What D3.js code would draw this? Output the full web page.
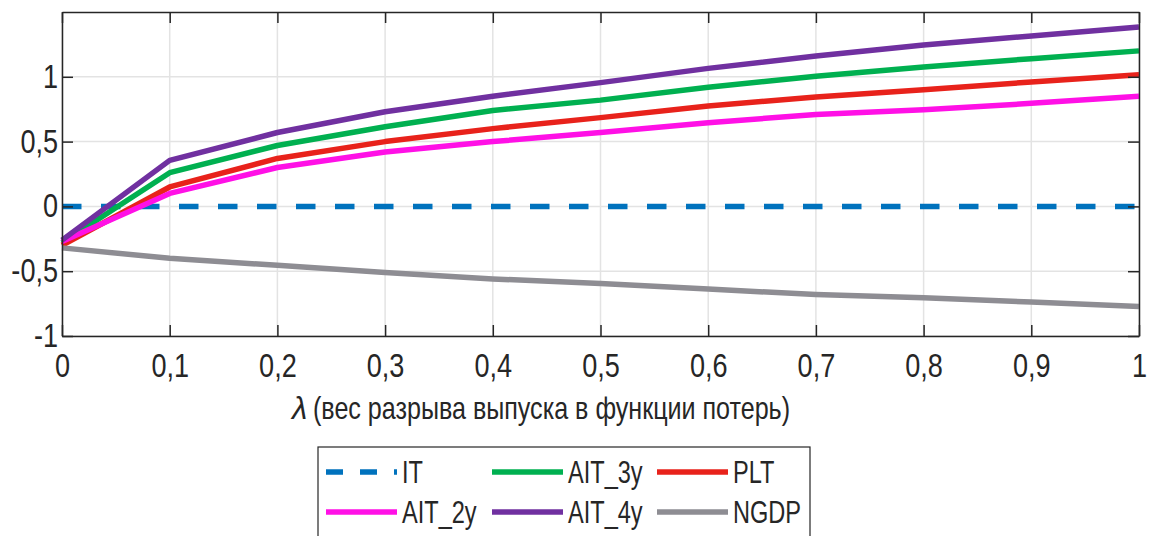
<!DOCTYPE html>
<html>
<head>
<meta charset="utf-8">
<script src="https://cdn.jsdelivr.net/npm/d3@7"></script>
<style>
  body { margin: 0; background: #fff; }
  svg text { font-family: "Liberation Sans Narrow", "Arial Narrow", "Liberation Sans", sans-serif; fill: #262626; }
</style>
</head>
<body>
<div id="chart"></div>
<script>
// lambda grid
const lambdas = [0, 0.1, 0.2, 0.3, 0.4, 0.5, 0.6, 0.7, 0.8, 0.9, 1];

// series values
const IT     = [0, 0, 0, 0, 0, 0, 0, 0, 0, 0, 0];
const AIT_2y = [-0.27, 0.10, 0.30, 0.42, 0.50, 0.57, 0.645, 0.71, 0.745, 0.795, 0.85];
const AIT_3y = [-0.28, 0.26, 0.47, 0.615, 0.74, 0.82, 0.92, 1.005, 1.075, 1.14, 1.20];
const AIT_4y = [-0.26, 0.355, 0.57, 0.73, 0.85, 0.955, 1.065, 1.16, 1.245, 1.315, 1.385];
const PLT    = [-0.30, 0.15, 0.37, 0.50, 0.60, 0.685, 0.775, 0.845, 0.90, 0.96, 1.015];
const NGDP   = [-0.32, -0.40, -0.455, -0.51, -0.56, -0.595, -0.638, -0.68, -0.705, -0.738, -0.772];

const xTicks = [0, 0.1, 0.2, 0.3, 0.4, 0.5, 0.6, 0.7, 0.8, 0.9, 1];
const yTicks = [-1, -0.5, 0, 0.5, 1];

const xLabel = "(вес разрыва выпуска в функции потерь)";

const series = [
  { name: "IT",     values: IT,     color: "#0072BD", dash: true },
  { name: "AIT_3y", values: AIT_3y, color: "#00B050" },
  { name: "PLT",    values: PLT,    color: "#E8221B" },
  { name: "AIT_2y", values: AIT_2y, color: "#FF10E6" },
  { name: "AIT_4y", values: AIT_4y, color: "#7030A0" },
  { name: "NGDP",   values: NGDP,   color: "#8E8D93" }
];

const width = 1149, height = 536;

const svg = d3.select("#chart").append("svg")
  .attr("width", width)
  .attr("height", height);

const x = d3.scaleLinear().domain([0, 1]).range([62, 1139]);
const y = d3.scaleLinear().domain([-1, 1.5]).range([336, 12]);

const fmt = d => String(d).replace(".", ",");

// squeeze text horizontally (no narrow font installed)
function condense(sel, k) {
  sel.each(function () {
    const w = this.getComputedTextLength();
    if (w > 0) d3.select(this).attr("textLength", w * k).attr("lengthAdjust", "spacingAndGlyphs");
  });
}

// grid
const grid = svg.append("g");
grid.selectAll("line.gx").data(xTicks).enter().append("line")
  .attr("x1", d => x(d)).attr("x2", d => x(d))
  .attr("y1", y(-1)).attr("y2", y(1.5))
  .attr("stroke", "#e3e3e3").attr("stroke-width", 1.5);
grid.selectAll("line.gy").data(yTicks).enter().append("line")
  .attr("x1", x(0)).attr("x2", x(1))
  .attr("y1", d => y(d)).attr("y2", d => y(d))
  .attr("stroke", "#e3e3e3").attr("stroke-width", 1.5);

// lines
const line = d3.line()
  .x((d, i) => x(lambdas[i]))
  .y(d => y(d));

svg.append("g").selectAll("path").data(series).enter().append("path")
  .attr("d", d => line(d.values))
  .attr("fill", "none")
  .attr("stroke", d => d.color)
  .attr("stroke-width", 5.5)
  .attr("stroke-linejoin", "round")
  .attr("stroke-dasharray", d => d.dash ? "19.5 19.5" : null);

// axes (inward ticks, closed box)
const tickLen = 11;
const axBottom = svg.append("g").attr("transform", `translate(0,${y(-1)})`)
  .call(d3.axisBottom(x).tickValues(xTicks).tickFormat(fmt).tickSizeInner(-tickLen).tickSizeOuter(0).tickPadding(18));
const axTop = svg.append("g").attr("transform", `translate(0,${y(1.5)})`)
  .call(d3.axisTop(x).tickValues(xTicks).tickFormat("").tickSizeInner(-tickLen).tickSizeOuter(0));
const axLeft = svg.append("g").attr("transform", `translate(${x(0)},0)`)
  .call(d3.axisLeft(y).tickValues(yTicks).tickFormat(fmt).tickSizeInner(-tickLen).tickSizeOuter(0).tickPadding(8));
const axRight = svg.append("g").attr("transform", `translate(${x(1)},0)`)
  .call(d3.axisRight(y).tickValues(yTicks).tickFormat("").tickSizeInner(-tickLen).tickSizeOuter(0));

[axBottom, axTop, axLeft, axRight].forEach(g => {
  g.selectAll(".domain").attr("stroke", "#262626").attr("stroke-width", 1.5);
  g.selectAll(".tick line").attr("stroke", "#262626").attr("stroke-width", 1.5);
  g.selectAll("text").attr("font-size", 33).attr("font-family", null).attr("fill", "#262626");
});
axLeft.selectAll(".tick text").attr("dx", 4);
condense(axBottom.selectAll("text"), 0.82);
condense(axLeft.selectAll("text"), 0.82);

// x label: italic lambda + condensed text
svg.append("text")
  .attr("x", 292).attr("y", 419)
  .attr("font-size", 31)
  .attr("font-family", "'DejaVu Serif', 'Liberation Serif', serif")
  .attr("font-style", "italic")
  .text("λ");
svg.append("text")
  .attr("x", 313).attr("y", 419)
  .attr("font-size", 32)
  .attr("textLength", 477)
  .attr("lengthAdjust", "spacingAndGlyphs")
  .text(xLabel);

// legend
const legend = svg.append("g");
legend.append("rect")
  .attr("x", 318).attr("y", 447)
  .attr("width", 492).attr("height", 100)
  .attr("fill", "#fff").attr("stroke", "#262626").attr("stroke-width", 1.2);

const legendOrder = ["IT", "AIT_3y", "PLT", "AIT_2y", "AIT_4y", "NGDP"];
const colX = [326, 492, 657];
const rowY = [472, 512];
legendOrder.forEach((name, i) => {
  const s = series.find(d => d.name === name);
  const cx = colX[i % 3], cy = rowY[Math.floor(i / 3)];
  legend.append("line")
    .attr("x1", cx).attr("x2", cx + 71)
    .attr("y1", cy).attr("y2", cy)
    .attr("stroke", s.color).attr("stroke-width", 5.5)
    .attr("stroke-dasharray", s.dash ? "17 17" : null);
  const t = legend.append("text")
    .attr("x", cx + 76).attr("y", cy + 11)
    .attr("font-size", 31)
    .text(name);
  condense(t, 0.76);
});
</script>
</body>
</html>
